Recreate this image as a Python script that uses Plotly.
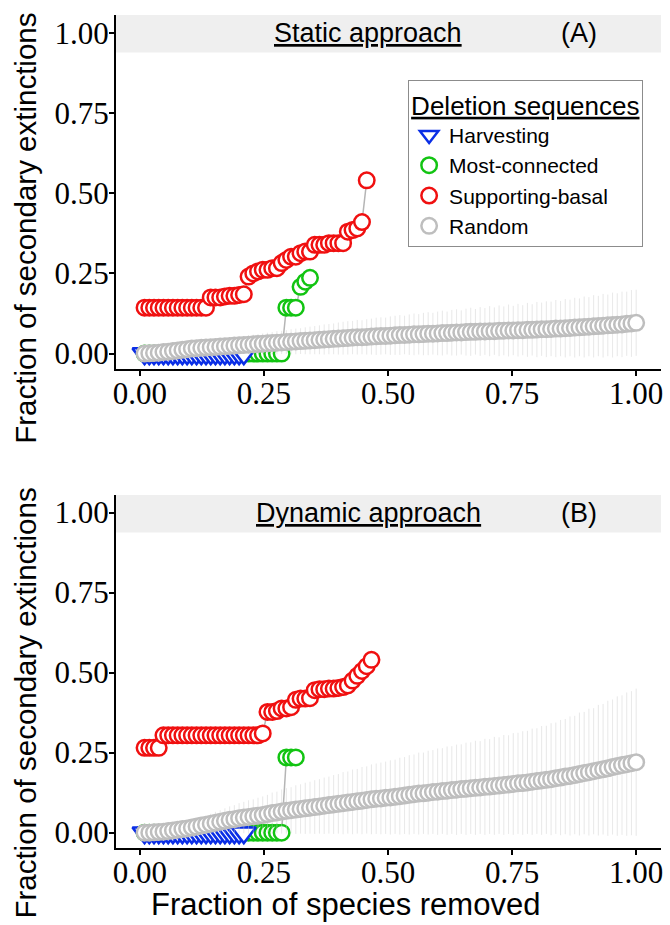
import plotly.graph_objects as go

# ---------------- data ----------------
N_SPECIES = 105
species_removed = [k / N_SPECIES for k in range(1, N_SPECIES + 1)]

x_ticks = [0.0, 0.25, 0.5, 0.75, 1.0]
x_tick_labels = ["0.00", "0.25", "0.50", "0.75", "1.00"]
y_ticks = [0.0, 0.25, 0.5, 0.75, 1.0]
y_tick_labels = ["0.00", "0.25", "0.50", "0.75", "1.00"]

panel_titles = ["Static approach", "Dynamic approach"]
panel_tags = ["(A)", "(B)"]
series_names = ["Harvesting", "Most-connected", "Supporting-basal", "Random"]

harvesting_static = [0.0] * 22
harvesting_dynamic = [0.0] * 22

most_connected_static = [0.0, 0.0, 0.0, 0.0, 0.0, 0.0, 0.0, 0.0, 0.0, 0.0,
                         0.0, 0.0, 0.0, 0.0, 0.0, 0.0, 0.0, 0.0, 0.0, 0.0,
                         0.0, 0.0, 0.0, 0.0, 0.0, 0.0, 0.0, 0.0, 0.0, 0.0,
                         0.143, 0.143, 0.143, 0.208, 0.224, 0.236]
most_connected_dynamic = [0.0, 0.0, 0.0, 0.0, 0.0, 0.0, 0.0, 0.0, 0.0, 0.0,
                          0.0, 0.0, 0.0, 0.0, 0.0, 0.0, 0.0, 0.0, 0.0, 0.0,
                          0.0, 0.0, 0.0, 0.0, 0.0, 0.0, 0.0, 0.0, 0.0, 0.0,
                          0.235, 0.235, 0.235]

supporting_basal_static = [0.143, 0.143, 0.143, 0.143, 0.143, 0.143, 0.143, 0.143, 0.143, 0.143,
                           0.143, 0.143, 0.143, 0.143,
                           0.175, 0.175, 0.175, 0.178, 0.180, 0.180, 0.183, 0.185,
                           0.240, 0.250, 0.256, 0.261, 0.261, 0.266, 0.266, 0.282, 0.292, 0.302,
                           0.302, 0.313, 0.318, 0.318,
                           0.339, 0.339, 0.339, 0.344, 0.344, 0.344, 0.344,
                           0.380, 0.385, 0.390, 0.410, 0.540]
supporting_basal_dynamic = [0.265, 0.265, 0.265, 0.265,
                            0.304, 0.304, 0.304, 0.304, 0.304, 0.304, 0.304, 0.304, 0.304, 0.304,
                            0.304, 0.304, 0.304, 0.304, 0.304, 0.304, 0.304, 0.304, 0.304, 0.304,
                            0.304, 0.310,
                            0.377, 0.377, 0.380, 0.388, 0.388, 0.392, 0.415, 0.419, 0.419, 0.420,
                            0.445, 0.448, 0.448, 0.450, 0.450, 0.452, 0.455, 0.460, 0.475, 0.490,
                            0.505, 0.520, 0.540]

random_static_mean = [
    0.000, 0.001, 0.002, 0.003, 0.005, 0.006, 0.008, 0.010, 0.012, 0.014,
    0.016, 0.017, 0.018, 0.019, 0.020, 0.021, 0.022, 0.023, 0.024, 0.025,
    0.026, 0.027, 0.028, 0.029, 0.030, 0.031, 0.032, 0.033, 0.034, 0.035,
    0.036, 0.037, 0.038, 0.039, 0.040, 0.041, 0.042, 0.043, 0.044, 0.045,
    0.046, 0.047, 0.048, 0.049, 0.050, 0.051, 0.051, 0.052, 0.053, 0.054,
    0.055, 0.055, 0.056, 0.057, 0.058, 0.058, 0.059, 0.060, 0.060, 0.061,
    0.062, 0.062, 0.063, 0.064, 0.064, 0.065, 0.066, 0.066, 0.067, 0.068,
    0.068, 0.069, 0.069, 0.070, 0.070, 0.071, 0.071, 0.072, 0.072, 0.073,
    0.073, 0.074, 0.074, 0.075, 0.076, 0.076, 0.077, 0.078, 0.078, 0.079,
    0.080, 0.081, 0.082, 0.083, 0.084, 0.085, 0.086, 0.087, 0.088, 0.089,
    0.090, 0.091, 0.093, 0.094, 0.096]
random_static_sd = [
    0.000, 0.003, 0.005, 0.006, 0.008, 0.009, 0.010, 0.012, 0.013, 0.015,
    0.016, 0.017, 0.018, 0.020, 0.020, 0.022, 0.022, 0.024, 0.025, 0.026,
    0.027, 0.028, 0.029, 0.030, 0.031, 0.032, 0.033, 0.034, 0.036, 0.036,
    0.037, 0.039, 0.040, 0.040, 0.042, 0.043, 0.044, 0.045, 0.047, 0.047,
    0.048, 0.050, 0.051, 0.052, 0.052, 0.054, 0.053, 0.055, 0.056, 0.058,
    0.058, 0.057, 0.060, 0.061, 0.062, 0.060, 0.063, 0.065, 0.063, 0.066,
    0.067, 0.065, 0.068, 0.070, 0.067, 0.071, 0.072, 0.069, 0.073, 0.075,
    0.071, 0.076, 0.073, 0.078, 0.074, 0.079, 0.076, 0.081, 0.077, 0.082,
    0.078, 0.084, 0.080, 0.086, 0.083, 0.087, 0.085, 0.089, 0.086, 0.091,
    0.088, 0.093, 0.090, 0.095, 0.092, 0.097, 0.094, 0.099, 0.096, 0.101,
    0.098, 0.102, 0.100, 0.104, 0.103]

random_dynamic_mean = [
    0.000, 0.000, 0.001, 0.002, 0.003, 0.005, 0.007, 0.009, 0.011, 0.013,
    0.016, 0.019, 0.022, 0.025, 0.028, 0.031, 0.034, 0.037, 0.040, 0.042,
    0.045, 0.047, 0.049, 0.051, 0.053, 0.055, 0.058, 0.061, 0.063, 0.066,
    0.068, 0.070, 0.072, 0.074, 0.076, 0.078, 0.080, 0.082, 0.084, 0.086,
    0.088, 0.090, 0.092, 0.094, 0.096, 0.098, 0.100, 0.102, 0.104, 0.106,
    0.107, 0.109, 0.110, 0.112, 0.114, 0.116, 0.118, 0.120, 0.122, 0.123,
    0.125, 0.127, 0.128, 0.130, 0.131, 0.133, 0.134, 0.136, 0.137, 0.139,
    0.140, 0.141, 0.143, 0.144, 0.146, 0.147, 0.149, 0.150, 0.152, 0.154,
    0.155, 0.157, 0.159, 0.161, 0.163, 0.165, 0.167, 0.170, 0.172, 0.175,
    0.177, 0.180, 0.183, 0.186, 0.189, 0.192, 0.195, 0.198, 0.201, 0.205,
    0.208, 0.211, 0.214, 0.217, 0.220]
random_dynamic_sd = [
    0.000, 0.002, 0.004, 0.006, 0.008, 0.010, 0.012, 0.014, 0.016, 0.018,
    0.020, 0.023, 0.026, 0.028, 0.031, 0.034, 0.036, 0.039, 0.042, 0.044,
    0.047, 0.049, 0.052, 0.053, 0.056, 0.058, 0.060, 0.064, 0.065, 0.069,
    0.071, 0.072, 0.076, 0.077, 0.080, 0.081, 0.084, 0.085, 0.088, 0.089,
    0.092, 0.093, 0.097, 0.097, 0.101, 0.101, 0.105, 0.105, 0.109, 0.110,
    0.112, 0.113, 0.116, 0.116, 0.120, 0.120, 0.124, 0.124, 0.128, 0.127,
    0.131, 0.131, 0.135, 0.134, 0.138, 0.137, 0.141, 0.140, 0.144, 0.143,
    0.147, 0.145, 0.150, 0.148, 0.153, 0.151, 0.156, 0.154, 0.159, 0.158,
    0.162, 0.161, 0.166, 0.165, 0.170, 0.169, 0.175, 0.174, 0.180, 0.180,
    0.186, 0.185, 0.192, 0.191, 0.198, 0.197, 0.204, 0.204, 0.211, 0.211,
    0.218, 0.218, 0.224, 0.225, 0.230]

# ---------------- styling ----------------
COL_BLUE = "#0a2ee6"
COL_GREEN = "#12c412"
COL_RED = "#f01010"
COL_GRAY = "#bebebe"
SANS = "Liberation Sans, Arial, sans-serif"
SERIF = "Liberation Serif, Times New Roman, serif"

fig = go.Figure()

panels = [
    dict(xa="x", ya="y", harv=harvesting_static, mc=most_connected_static,
         sb=supporting_basal_static, rm=random_static_mean, rs=random_static_sd, legend=True),
    dict(xa="x2", ya="y2", harv=harvesting_dynamic, mc=most_connected_dynamic,
         sb=supporting_basal_dynamic, rm=random_dynamic_mean, rs=random_dynamic_sd, legend=False),
]

for p in panels:
    series = [
        ("mc", p["mc"], COL_GREEN, "circle", 15.5, 1),
        ("harv", p["harv"], COL_BLUE, "triangle-down", 21, 0),
        ("sb", p["sb"], COL_RED, "circle", 15.5, 2),
        ("rm", p["rm"], COL_GRAY, "circle", 15.5, 3),
    ]
    # connecting gray lines (below markers)
    for key, ys, col, sym, sz, idx in series:
        fig.add_trace(go.Scatter(
            x=species_removed[:len(ys)], y=ys, mode="lines",
            line=dict(color="#b5b5b5", width=1.5),
            xaxis=p["xa"], yaxis=p["ya"], showlegend=False, hoverinfo="skip"))
    for key, ys, col, sym, sz, idx in series:
        kw = {}
        if key == "rm":
            kw["error_y"] = dict(type="data", array=p["rs"], visible=True,
                                 color="rgba(200,200,200,0.42)", thickness=1, width=0)
        fig.add_trace(go.Scatter(
            x=species_removed[:len(ys)], y=ys, mode="markers",
            name=series_names[idx], legendrank=idx + 1,
            marker=dict(symbol=sym, size=sz, color="white",
                        line=dict(color=col, width=2.5)),
            xaxis=p["xa"], yaxis=p["ya"], showlegend=p["legend"], **kw))

# ---------------- layout ----------------
axis_common = dict(
    showgrid=False, zeroline=False, showline=True, linecolor="black", linewidth=2,
    ticks="outside", ticklen=5, tickwidth=1.5, tickcolor="black",
    tickfont=dict(family=SERIF, size=31, color="black"),
)
x_range = [-0.048, 1.05]
y_range = [-0.048, 1.055]

fig.update_layout(
    width=670, height=925,
    paper_bgcolor="white", plot_bgcolor="white",
    margin=dict(l=116, r=7, t=15, b=77),
    xaxis=dict(domain=[0, 1], anchor="y", range=x_range, tickvals=x_ticks,
               ticktext=x_tick_labels, ticklabelstandoff=-9, **axis_common),
    yaxis=dict(domain=[0.575, 1], anchor="x", range=y_range, tickvals=y_ticks,
               ticktext=y_tick_labels, ticklabelstandoff=-6, **axis_common),
    xaxis2=dict(domain=[0, 1], anchor="y2", range=x_range, tickvals=x_ticks,
                ticktext=x_tick_labels, ticklabelstandoff=-9, **axis_common),
    yaxis2=dict(domain=[0, 0.4238], anchor="x2", range=y_range, tickvals=y_ticks,
                ticktext=y_tick_labels, ticklabelstandoff=-6, **axis_common),
    showlegend=True,
    legend=dict(
        x=0.536, y=0.922, xanchor="left", yanchor="top",
        bgcolor="white", bordercolor="#8c8c8c", borderwidth=1,
        font=dict(family=SANS, size=21, color="black"),
        title=dict(text="<u>Deletion sequences</u>",
                   font=dict(family=SANS, size=26, color="black")),
        itemwidth=30, tracegroupgap=0,
    ),
)

shapes = []
annotations = []
for i, (xr, yr) in enumerate([("x", "y"), ("x2", "y2")]):
    shapes.append(dict(type="rect", xref=xr + " domain", yref=yr,
                       x0=0, x1=1, y0=0.938, y1=1.055,
                       fillcolor="#efefef", line=dict(width=0), layer="below"))
    annotations.append(dict(xref=xr, yref=yr, x=0.46, y=1.0,
                            text="<u>" + panel_titles[i] + "</u>", showarrow=False,
                            font=dict(family=SANS, size=27, color="black"),
                            xanchor="center", yanchor="middle"))
    annotations.append(dict(xref=xr, yref=yr, x=0.885, y=1.0, text=panel_tags[i],
                            showarrow=False,
                            font=dict(family=SANS, size=27, color="black"),
                            xanchor="center", yanchor="middle"))

# axis titles
for yc in [0.744, 0.174]:
    annotations.append(dict(xref="paper", yref="paper", x=-0.166, y=yc,
                            text="Fraction of secondary extinctions", textangle=-90,
                            showarrow=False, xanchor="center", yanchor="middle",
                            font=dict(family=SANS, size=29.5, color="black")))
annotations.append(dict(xref="paper", yref="paper", x=0.422, y=-0.0684,
                        text="Fraction of species removed", showarrow=False,
                        xanchor="center", yanchor="middle",
                        font=dict(family=SANS, size=31, color="black")))

fig.update_layout(shapes=shapes, annotations=annotations)

fig.write_html("out.html",
               config={"displayModeBar": False},
               post_script="document.body.style.margin='0';document.body.style.padding='0';")
